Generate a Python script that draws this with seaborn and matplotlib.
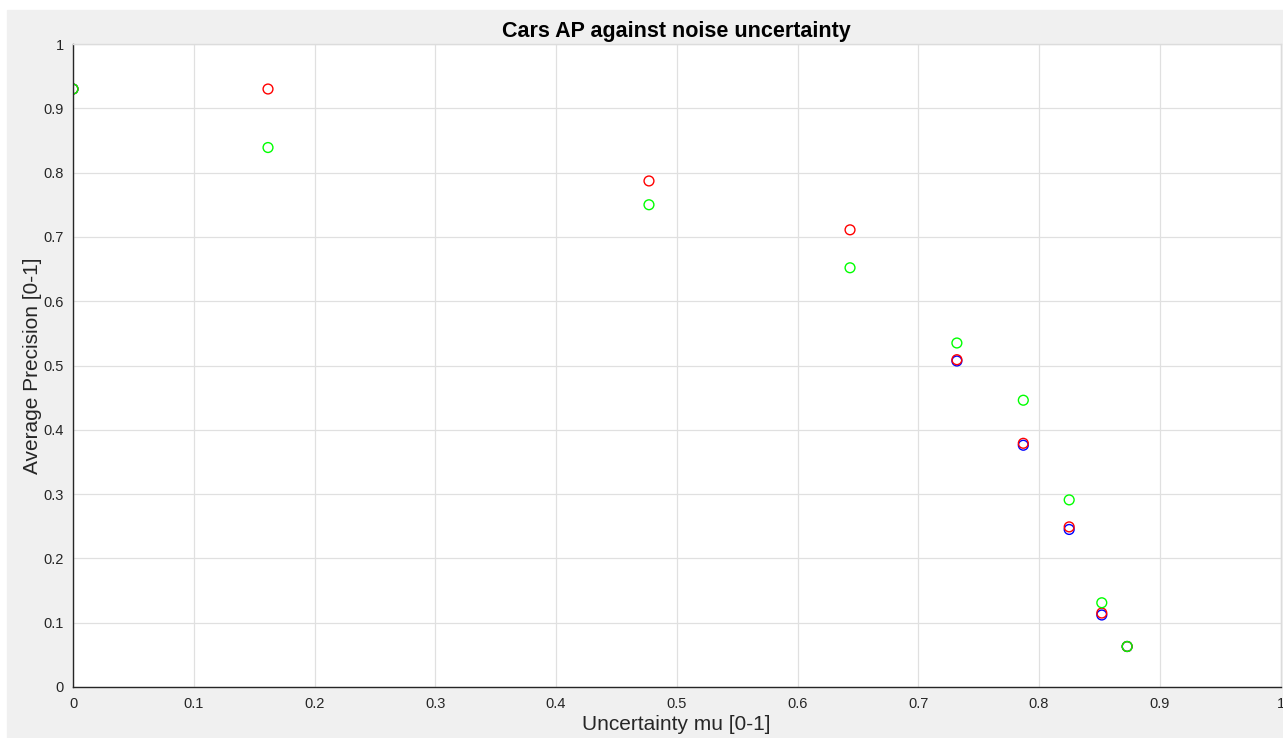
import numpy as np
import pandas as pd
import matplotlib
matplotlib.use("Agg")
import matplotlib.pyplot as plt
import seaborn as sns

# uncertainty levels (x) and AP per method
mu = [0.0, 0.1615, 0.477, 0.6435, 0.732, 0.787, 0.825, 0.852, 0.873]
ap_red = [0.930, 0.930, 0.787, 0.711, 0.509, 0.379, 0.249, 0.115, 0.063]
ap_green = [0.930, 0.839, 0.750, 0.652, 0.535, 0.446, 0.291, 0.131, 0.063]
# blue is hidden under red at mu = 0.16 / 0.48 / 0.64, only visible ones kept
ap_blue = [0.930, np.nan, np.nan, np.nan, 0.507, 0.376, 0.245, 0.112, 0.063]

df = pd.concat([
    pd.DataFrame({"mu": mu, "ap": ap_blue, "series": "blue"}),
    pd.DataFrame({"mu": mu, "ap": ap_red, "series": "red"}),
    pd.DataFrame({"mu": mu, "ap": ap_green, "series": "green"}),
]).dropna()

sns.set_style("white")
plt.rcParams['font.family'] = ['Liberation Sans', 'DejaVu Sans']

fig = plt.figure(figsize=(12.83, 7.38), dpi=100)
fig.patch.set_facecolor("white")
# matlab-like grey figure background
fig.patches.append(plt.Rectangle((7 / 1283, 0), 1 - 7 / 1283, 1 - 10 / 738,
                                 transform=fig.transFigure, color="#f0f0f0", zorder=-10))

ax = fig.add_axes([73 / 1283, 51 / 738, 1207.5 / 1283, 643 / 738])
ax.set_facecolor("white")

sns.scatterplot(data=df, x="mu", y="ap", hue="series",
                palette={"blue": "#0000ff", "red": "#ff0000", "green": "#00ff00"},
                marker="o", s=50, linewidth=1.0,
                legend=False, ax=ax)
# hollow markers: edge takes the hue colour
for coll in ax.collections:
    fc = coll.get_facecolors()
    coll.set_edgecolors(fc)
    coll.set_facecolors("none")

ax.set_xlim(0, 1)
ax.set_ylim(0, 1)
ticks = np.arange(0, 1.01, 0.1)
tick_labels = ["0", "0.1", "0.2", "0.3", "0.4", "0.5", "0.6", "0.7", "0.8", "0.9", "1"]
ax.set_xticks(ticks)
ax.set_yticks(ticks)
ax.set_xticklabels(tick_labels)
ax.set_yticklabels(tick_labels)
ax.grid(True, color="#e0e0e0", linewidth=0.9)
ax.set_axisbelow(True)

ax.tick_params(direction="in", length=8, width=1, colors="#262626",
               labelsize=10.5, labelcolor="#262626", pad=6.5)
ax.tick_params(axis="x", pad=7)
for side in ["left", "bottom"]:
    ax.spines[side].set_color("#262626")
    ax.spines[side].set_linewidth(1)
for side in ["top", "right"]:
    ax.spines[side].set_visible(True)
    ax.spines[side].set_color("#dcdcdc")
    ax.spines[side].set_linewidth(1)

ax.set_xlabel("Uncertainty mu [0-1]", fontsize=15, color="#262626", labelpad=3)
ax.set_ylabel("Average Precision [0-1]", fontsize=15, color="#262626", labelpad=1)
ax.set_title("Cars AP against noise uncertainty", fontsize=15.5, fontweight="bold",
             color="black", pad=5)

fig.savefig("out.png", dpi=100, facecolor=fig.get_facecolor())
